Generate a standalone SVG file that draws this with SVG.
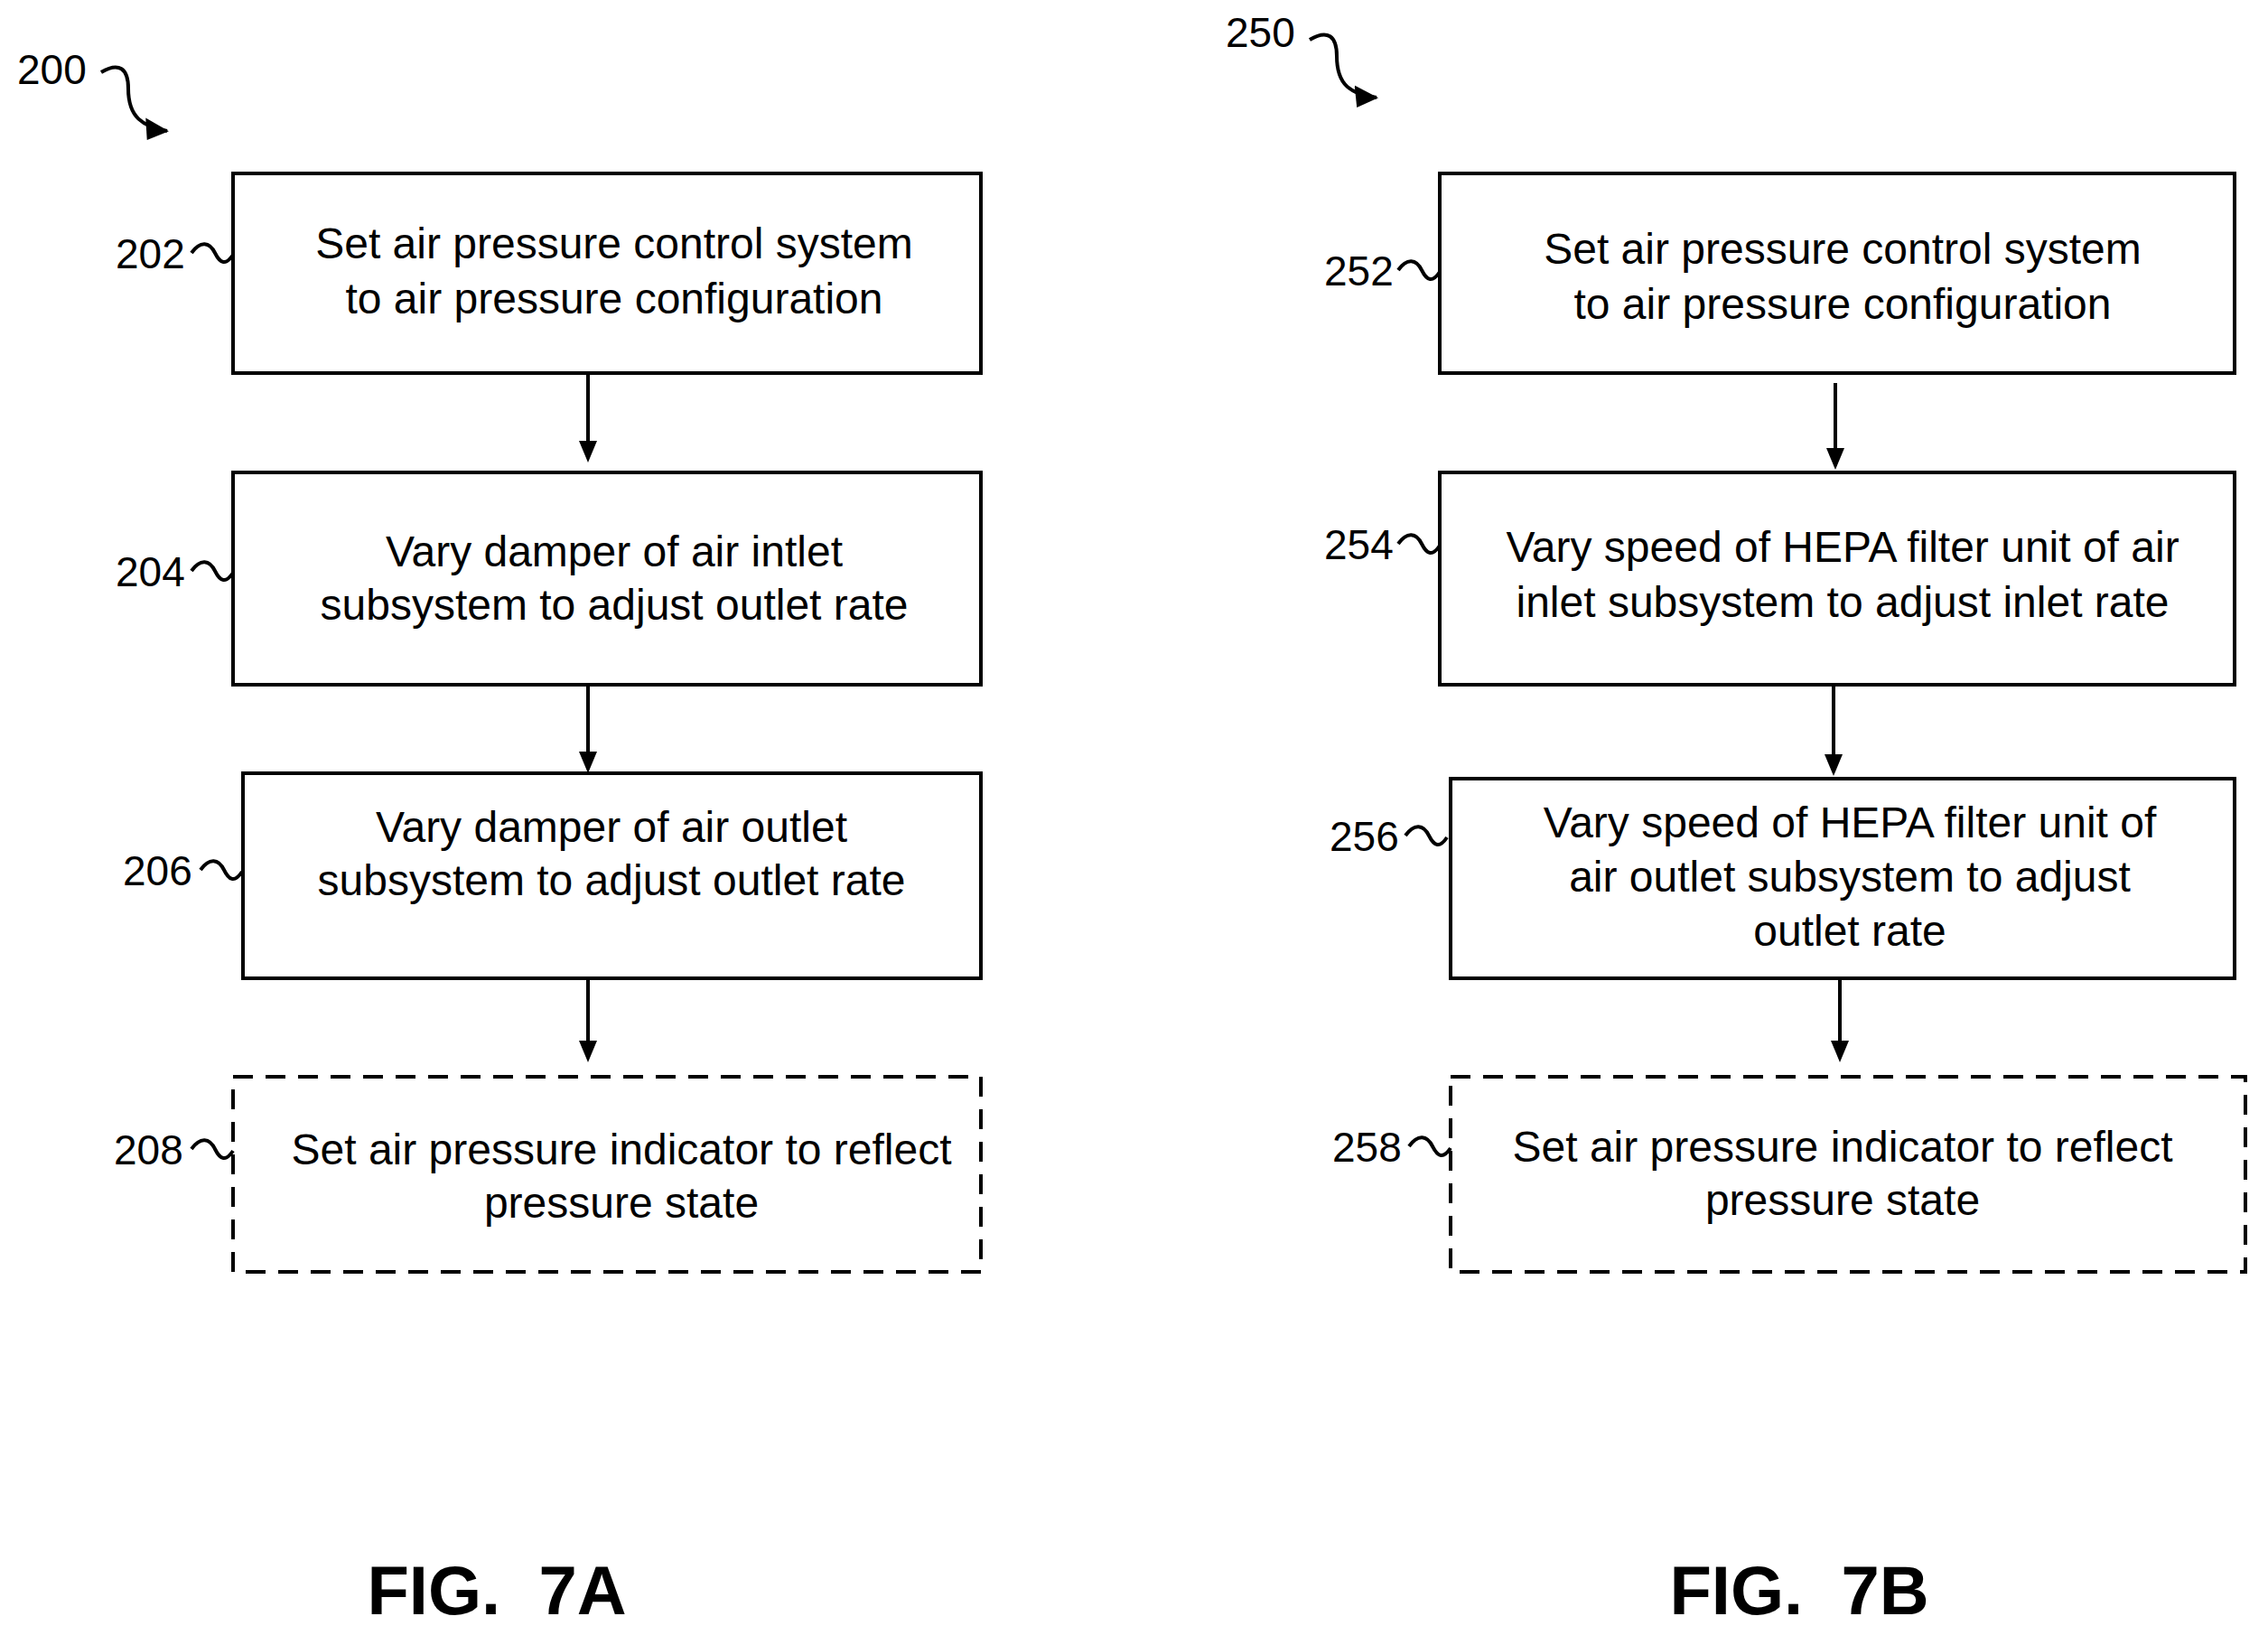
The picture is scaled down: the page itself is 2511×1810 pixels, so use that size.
<svg xmlns="http://www.w3.org/2000/svg" width="2511" height="1810" viewBox="0 0 2511 1810">
<defs>
<style>
.box{fill:#fff;stroke:#000;stroke-width:4}
.dash{fill:#fff;stroke:#000;stroke-width:4;stroke-dasharray:22,14}
.t{font-family:"Liberation Sans",Arial,sans-serif;font-size:48px;text-anchor:middle;fill:#000}
.l{font-family:"Liberation Sans",Arial,sans-serif;font-size:46px;fill:#000}
.f{font-family:"Liberation Sans",Arial,sans-serif;font-size:76px;font-weight:bold;text-anchor:middle;fill:#000;white-space:pre}
.sq{fill:none;stroke:#000;stroke-width:4}
.c{stroke:#000;stroke-width:4;fill:none}
</style>
<marker id="ah2" markerWidth="28" markerHeight="28" refX="26" refY="14" orient="auto" markerUnits="userSpaceOnUse"><path d="M0,4 L28,14 L6,28 z"/></marker>
</defs>
<g id="connectors">
<line class="c" x1="651" y1="413" x2="651" y2="500"/><path d="M641,488 L651,512 L661,488 z"/>
<line class="c" x1="651" y1="758" x2="651" y2="845"/><path d="M641,832 L651,856 L661,832 z"/>
<line class="c" x1="651" y1="1083" x2="651" y2="1165"/><path d="M641,1152 L651,1176 L661,1152 z"/>
<line class="c" x1="2032" y1="424" x2="2032" y2="508"/><path d="M2022,496 L2032,520 L2042,496 z"/>
<line class="c" x1="2030" y1="758" x2="2030" y2="847"/><path d="M2020,835 L2030,859 L2040,835 z"/>
<line class="c" x1="2037" y1="1083" x2="2037" y2="1165"/><path d="M2027,1152 L2037,1176 L2047,1152 z"/>
<path class="sq" d="M112,80 C132,68 142,76 142,98 C142,130 158,140 185,145" marker-end="url(#ah2)"/>
<path class="sq" d="M1450,44 C1470,32 1480,40 1480,62 C1480,95 1496,104 1524,108" marker-end="url(#ah2)"/>
</g>
<g id="label200"><text class="l" x="19" y="93">200</text></g>
<g id="label250"><text class="l" x="1357" y="52">250</text></g>
<g id="n202"><rect class="box" x="258" y="192" width="828" height="221"/>
<text class="t" x="680" y="286">Set air pressure control system</text><text class="t" x="680" y="347">to air pressure configuration</text>
<text class="l" x="128" y="297">202</text><path class="sq" d="M212,280 c10,-14 20,-12 26,0 c6,12 12,14 20,2"/></g>
<g id="n204"><rect class="box" x="258" y="523" width="828" height="235"/>
<text class="t" x="680" y="627">Vary damper of air intlet</text><text class="t" x="680" y="686">subsystem to adjust outlet rate</text>
<text class="l" x="128" y="649">204</text><path class="sq" d="M212,632 c10,-14 20,-12 26,0 c6,12 12,14 20,2"/></g>
<g id="n206"><rect class="box" x="269" y="856" width="817" height="227"/>
<text class="t" x="677" y="932">Vary damper of air outlet</text><text class="t" x="677" y="991">subsystem to adjust outlet rate</text>
<text class="l" x="136" y="980">206</text><path class="sq" d="M222,963 c10,-14 20,-12 26,0 c6,12 12,14 20,2"/></g>
<g id="n208"><rect class="dash" x="258" y="1192" width="828" height="216"/>
<text class="t" x="688" y="1289">Set air pressure indicator to reflect</text><text class="t" x="688" y="1348">pressure state</text>
<text class="l" x="126" y="1289">208</text><path class="sq" d="M212,1272 c10,-14 20,-12 26,0 c6,12 12,14 20,2"/></g>
<g id="n252"><rect class="box" x="1594" y="192" width="880" height="221"/>
<text class="t" x="2040" y="292">Set air pressure control system</text><text class="t" x="2040" y="353">to air pressure configuration</text>
<text class="l" x="1466" y="316">252</text><path class="sq" d="M1548,299 c10,-14 20,-12 26,0 c6,12 12,14 20,2"/></g>
<g id="n254"><rect class="box" x="1594" y="523" width="880" height="235"/>
<text class="t" x="2040" y="622">Vary speed of HEPA filter unit of air</text><text class="t" x="2040" y="683">inlet subsystem to adjust inlet rate</text>
<text class="l" x="1466" y="619">254</text><path class="sq" d="M1548,602 c10,-14 20,-12 26,0 c6,12 12,14 20,2"/></g>
<g id="n256"><rect class="box" x="1606" y="862" width="868" height="221"/>
<text class="t" x="2048" y="927">Vary speed of HEPA filter unit of</text><text class="t" x="2048" y="987">air outlet subsystem to adjust</text><text class="t" x="2048" y="1047">outlet rate</text>
<text class="l" x="1472" y="942">256</text><path class="sq" d="M1556,925 c10,-14 20,-12 26,0 c6,12 12,14 20,2"/></g>
<g id="n258"><rect class="dash" x="1606" y="1192" width="880" height="216"/>
<text class="t" x="2040" y="1286">Set air pressure indicator to reflect</text><text class="t" x="2040" y="1345">pressure state</text>
<text class="l" x="1475" y="1286">258</text><path class="sq" d="M1560,1269 c10,-14 20,-12 26,0 c6,12 12,14 20,2"/></g>
<g id="fig7a"><text class="f" x="550" y="1787">FIG.  7A</text></g>
<g id="fig7b"><text class="f" x="1992" y="1787">FIG.  7B</text></g>
</svg>
